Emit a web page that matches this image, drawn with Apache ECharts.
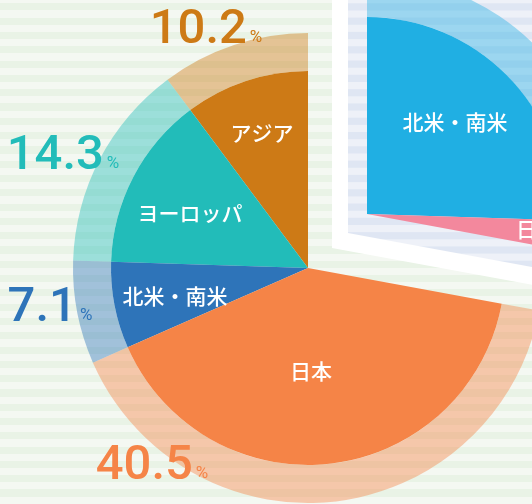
<!DOCTYPE html>
<html>
<head>
<meta charset="utf-8">
<script src="https://cdn.jsdelivr.net/npm/echarts@6/dist/echarts.min.js"></script>
<style>
  html, body { margin: 0; padding: 0; }
  #chart {
    width: 532px;
    height: 504px;
    background: repeating-linear-gradient(to bottom,
      #f4f8f2 0, #f4f8f2 3.3px, #e9f3e6 3.3px, #e9f3e6 10.5px, #f4f8f2 10.5px, #f4f8f2 14.3px);
  }
</style>
</head>
<body>
<div id="chart"></div>
<script>
// main pie (counter-clockwise from 12 o'clock)
const categories = ['アジア', 'ヨーロッパ', '北米・南米', '日本']
const shares = [10.2, 14.3, 7.1, 40.5]
const colors = ['#cd7a16', '#22bcb9', '#2e74b9', '#f58447']

// exploded part (clockwise from 12 o'clock)
const insetCategories = ['北米・南米', '日本']
const insetShares = [25.5, 2.4]
const insetColors = ['#20afe3', '#f3889d']

const rest = +(100 - shares.reduce((a, b) => a + b, 0)).toFixed(1)

// label placement (px)
const nameLabelPos = [[262, 133], [190, 213], [175, 296], [311, 371]]
const pctLabelPos = [[206, 31], [63, 157], [50, 309], [152, 467]]
const insetLabelPos = [[455, 122], [537, 229]]

const cjk = '"Noto Sans CJK JP", "Noto Sans", sans-serif'
const num = 'Roboto, "DejaVu Sans", sans-serif'

function stripes(light, dark) {
  const c = document.createElement('canvas')
  c.width = 4
  c.height = 143
  const ctx = c.getContext('2d')
  ctx.fillStyle = light
  ctx.fillRect(0, 0, 4, 143)
  ctx.fillStyle = dark
  for (let k = 0; k < 10; k++) ctx.fillRect(0, 3.3 + k * 14.3, 4, 7.2)
  return { image: c, repeat: 'repeat' }
}

function fade(hex, a) {
  const n = parseInt(hex.slice(1), 16)
  return `rgba(${n >> 16},${(n >> 8) & 255},${n & 255},${a})`
}

const blank = (v) => ({
  value: v,
  itemStyle: { color: 'transparent' },
  label: { show: false },
})

const chart = echarts.init(document.getElementById('chart'), null, { renderer: 'canvas' })

const mainData = categories.map((name, i) => ({
  name, value: shares[i], itemStyle: { color: colors[i] },
})).concat([blank(rest)])

const ringData = categories.map((name, i) => ({
  name,
  value: shares[i],
  itemStyle: { color: fade(colors[i], 0.42) },
  label: {
    formatter: `{n|${shares[i]}}{p|%}`,
    rich: {
      n: { color: colors[i], fontSize: 49, fontWeight: 500, fontFamily: num, verticalAlign: 'bottom', lineHeight: 49 },
      p: { color: colors[i], fontSize: 17, fontFamily: num, verticalAlign: 'bottom', lineHeight: 17, padding: [0, 0, 9, 3] },
    },
  },
})).concat([blank(rest)])

const insetData = insetCategories.map((name, i) => ({
  name, value: insetShares[i], itemStyle: { color: insetColors[i] },
})).concat([blank(100 - rest)])

const insetRing = insetCategories.map((name, i) => ({
  name, value: insetShares[i], itemStyle: { color: fade(insetColors[i], 0.4) }, label: { show: false },
})).concat([blank(100 - rest)])

const at = (list) => (p) => {
  const pos = list[p.dataIndex]
  if (!pos) return
  return { x: pos[0], y: pos[1], align: 'center', verticalAlign: 'middle' }
}

const base = {
  type: 'pie',
  silent: true,
  animation: false,
  avoidLabelOverlap: false,
  labelLine: { show: false },
}

const nameLabel = { show: true, position: 'inside', formatter: '{b}', color: '#fff', fontSize: 21, fontWeight: 500, fontFamily: cjk }

chart.setOption({
  animation: false,
  series: [
    // white frame of the exploded wedge
    {
      ...base, z: 1,
      center: [332, 248], radius: [0, 800], startAngle: 90, clockwise: true,
      label: { show: false },
      data: [{ value: rest, itemStyle: { color: '#ffffff' } }, blank(100 - rest)],
    },
    // striped inside of the wedge
    {
      ...base, z: 1,
      center: [348, 233], radius: [0, 800], startAngle: 90, clockwise: true,
      label: { show: false },
      data: [{ value: rest, itemStyle: { color: stripes('#eef1f8', '#dfe6f3') } }, blank(100 - rest)],
    },
    // main pie
    {
      ...base, z: 2,
      center: [308, 268], radius: [0, 197], startAngle: 90, clockwise: false,
      label: nameLabel,
      labelLayout: at(nameLabelPos),
      data: mainData,
    },
    // translucent outer ring + percentages
    {
      ...base, z: 2,
      center: [308, 268], radius: [197, 235], startAngle: 90, clockwise: false,
      label: { show: true, position: 'outside' },
      labelLayout: at(pctLabelPos),
      data: ringData,
    },
    // exploded pie
    {
      ...base, z: 3,
      center: [367, 214], radius: [0, 197], startAngle: 90, clockwise: true,
      label: nameLabel,
      labelLayout: at(insetLabelPos),
      data: insetData,
    },
    {
      ...base, z: 3,
      center: [367, 214], radius: [197, 238], startAngle: 90, clockwise: true,
      label: { show: false },
      data: insetRing,
    },
  ],
})
</script>
</body>
</html>
